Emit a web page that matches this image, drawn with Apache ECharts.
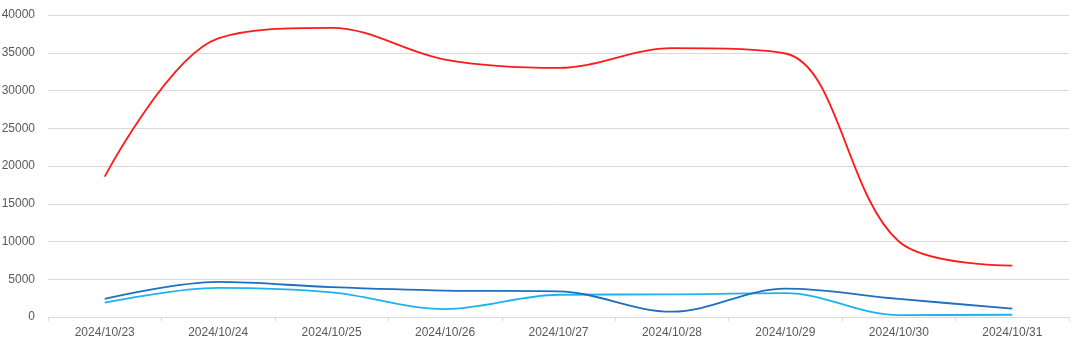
<!DOCTYPE html>
<html>
<head>
<meta charset="utf-8">
<script src="https://cdn.jsdelivr.net/npm/echarts@6/dist/echarts.min.js"></script>
<style>html,body{margin:0;padding:0;background:#fff;}#c{width:1080px;height:347px;}</style>
</head>
<body>
<div id="c"></div>
<script>
var categories = ['2024/10/23','2024/10/24','2024/10/25','2024/10/26','2024/10/27','2024/10/28','2024/10/29','2024/10/30','2024/10/31'];
var redValues = [18600, 36900, 38300, 34100, 33000, 35600, 34900, 10000, 6800];
var darkBlueValues = [2400, 4650, 3950, 3500, 3400, 700, 3750, 2400, 1100];
var lightBlueValues = [1900, 3850, 3250, 1050, 2950, 3000, 3150, 250, 300];
var yTicks = {min: 0, max: 40000, interval: 5000};

var chart = echarts.init(document.getElementById('c'), null, {renderer: 'canvas'});
function line(data, color) {
  return {type: 'line', data: data, smooth: 0.35, symbol: 'none',
    lineStyle: {color: color, width: 1.8}, itemStyle: {color: color}};
}
chart.setOption({
  animation: false,
  backgroundColor: '#ffffff',
  grid: {left: 48, right: 11, top: 15, bottom: 30, containLabel: false, outerBoundsMode: 'none'},
  xAxis: {
    type: 'category', data: categories, boundaryGap: true,
    axisLine: {show: true, lineStyle: {color: '#d9d9d9', width: 1}},
    axisTick: {show: true, length: 4, lineStyle: {color: '#d9d9d9'}},
    axisLabel: {color: '#595959', fontSize: 12, fontFamily: 'Liberation Sans', margin: 10}
  },
  yAxis: {
    type: 'value', min: yTicks.min, max: yTicks.max, interval: yTicks.interval,
    axisLine: {show: false}, axisTick: {show: false},
    splitLine: {lineStyle: {color: '#d9d9d9', width: 1}},
    axisLabel: {color: '#595959', fontSize: 12, fontFamily: 'Liberation Sans', margin: 13,
      formatter: function (v) { return String(v); }}
  },
  series: [
    line(lightBlueValues, '#1cb3ee'),
    line(darkBlueValues, '#1f6fbf'),
    line(redValues, '#ff1a1a')
  ]
});
</script>
</body>
</html>
